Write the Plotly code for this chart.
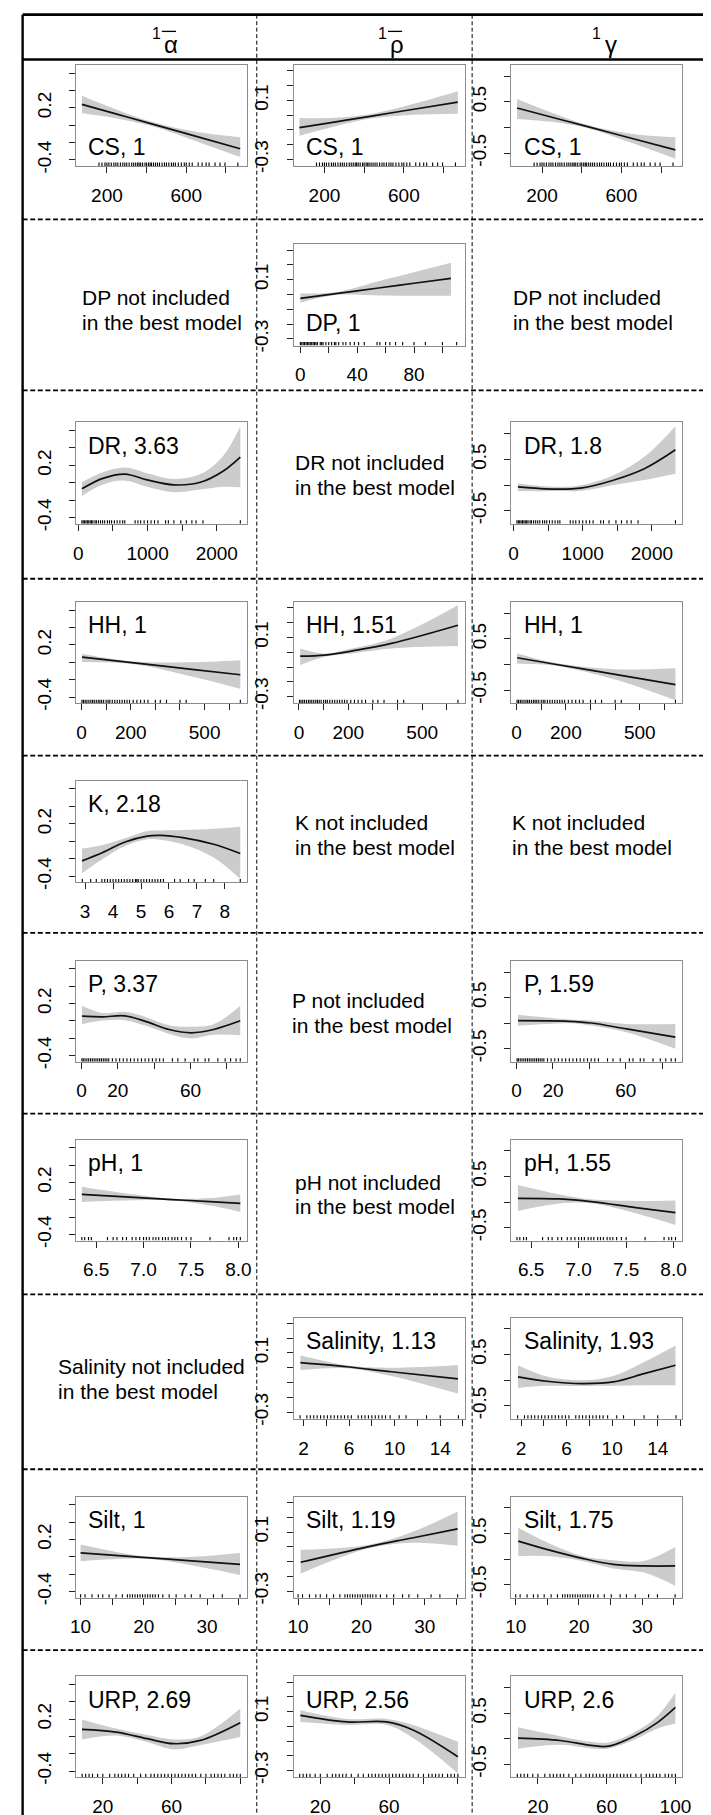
import plotly.graph_objects as go

W, H = 711, 1815
FONT = "Liberation Sans, Arial, Helvetica, sans-serif"

# ---------------- data: header ----------------
col_symbols = ["\u03b1", "\u03c1", "\u03b3"]
col_has_bar = [True, True, False]

# ---------------- data: y axes per column ----------------
ya_ticks = [-0.4, -0.2, 0.0, 0.2, 0.4, 0.6]
ya_text = ["-0.4", "", "", "0.2", "", ""]
ya_range = [-0.469, 0.692]
yr_ticks = [-0.3, -0.2, -0.1, 0.0, 0.1, 0.2, 0.3]
yr_text = ["-0.3", "", "", "", "0.1", "", ""]
yr_range = [-0.345, 0.34]
yg_ticks = [-0.5, 0.0, 0.5, 1.0]
yg_text = ["-0.5", "", "0.5", ""]
yg_range = [-0.752, 1.22]

# ---------------- data: x axes per variable ----------------
cs_range = [45, 906];    cs_ticks = [200, 400, 600, 800];  cs_text = ["200", "", "600", ""]
dp_range = [-4.7, 115.6]; dp_ticks = [0, 20, 40, 60, 80, 100]; dp_text = ["0", "", "40", "", "80", ""]
dr_range = [-32, 2436];  dr_ticks = [0, 500, 1000, 1500, 2000]; dr_text = ["0", "", "1000", "", "2000"]
hh_range = [-21.6, 672]; hh_ticks = [0, 100, 200, 300, 400, 500, 600]; hh_text = ["0", "", "200", "", "", "500", ""]
k_range = [2.68, 8.79];  k_ticks = [3, 4, 5, 6, 7, 8]; k_text = ["3", "4", "5", "6", "7", "8"]
p_range = [-2.9, 91];    p_ticks = [0, 20, 40, 60, 80]; p_text = ["0", "20", "", "60", ""]
ph_range = [6.29, 8.09]; ph_ticks = [6.5, 7.0, 7.5, 8.0]; ph_text = ["6.5", "7.0", "7.5", "8.0"]
sal_range = [1.14, 16.14]; sal_ticks = [2, 4, 6, 8, 10, 12, 14, 16]; sal_text = ["2", "", "6", "", "10", "", "14", ""]
silt_range = [9.3, 36.3]; silt_ticks = [10, 15, 20, 25, 30, 35]; silt_text = ["10", "", "20", "", "30", ""]
urp_range = [4.5, 103.9]; urp_ticks = [20, 40, 60, 80, 100]
urp_text = ["20", "", "60", "", ""]
urp_text_g = ["20", "", "60", "", "100"]

# ---------------- data: rugs ----------------
cs_rug = [160, 175, 190, 200, 210, 222, 235, 245, 255, 268, 280, 290, 300, 312, 325, 335, 345, 355,
          362, 370, 380, 392, 400, 410, 418, 425, 435, 445, 455, 465, 478, 490, 500, 512, 525, 535,
          545, 560, 575, 590, 600, 615, 630, 660, 680, 700, 715, 745, 770, 795, 860]
dp_rug = [0, 1, 2, 3, 4, 5, 6, 7, 8, 9, 10, 11, 12, 14, 15, 16, 18, 20, 22, 24, 25, 27, 30, 32,
          35, 38, 41, 45, 54, 56, 60, 63, 67, 72, 80, 88, 100, 110]
dr_rug = [50, 70, 90, 110, 130, 150, 170, 190, 210, 240, 260, 290, 320, 350, 380, 420, 450, 480,
          520, 560, 600, 640, 670, 820, 860, 900, 950, 1000, 1050, 1100, 1150, 1260, 1300, 1380,
          1480, 1560, 1640, 1700, 1800, 2340]
hh_rug = [2, 8, 15, 22, 30, 38, 45, 52, 60, 68, 75, 82, 90, 100, 108, 115, 125, 135, 145, 155,
          165, 175, 185, 195, 210, 225, 240, 255, 270, 300, 320, 345, 400, 425, 645]
k_rug = [2.9, 3.2, 3.4, 3.6, 3.7, 3.8, 3.9, 4.0, 4.1, 4.2, 4.3, 4.4, 4.5, 4.6, 4.7, 4.8, 4.85,
         4.9, 5.0, 5.1, 5.2, 5.3, 5.4, 5.5, 5.6, 5.7, 5.8, 6.2, 6.4, 6.7, 6.9, 7.3, 7.6, 8.55]
p_rug = [0.3, 1, 2, 3, 4, 5, 6, 7, 8, 9, 10, 11, 12, 13, 14, 15, 17, 19, 21, 23, 25, 27, 29, 31,
         33, 35, 37, 39, 41, 43, 45, 50, 53, 57, 62, 64, 68, 70, 75, 79, 82, 85, 87.3]
ph_rug = [6.35, 6.38, 6.42, 6.45, 6.62, 6.68, 6.72, 6.78, 6.82, 6.88, 6.92, 6.96, 7.0, 7.03,
          7.06, 7.1, 7.13, 7.16, 7.2, 7.23, 7.26, 7.3, 7.33, 7.36, 7.4, 7.45, 7.5, 7.7, 7.9, 7.95,
          7.98, 8.02]
sal_rug = [1.7, 2.3, 2.6, 2.9, 3.2, 3.5, 3.8, 4.1, 4.4, 4.7, 5.0, 5.3, 5.6, 5.9, 6.2, 6.8, 7.1,
           7.4, 7.7, 8.0, 8.3, 8.6, 8.9, 9.2, 9.6, 10.4, 11.0, 12.8, 14.0, 15.6]
silt_rug = [10.0, 10.7, 11.8, 12.8, 13.5, 14.5, 15.6, 16.6, 17.4, 17.8, 18.2, 18.6, 19.0, 19.4,
            19.8, 20.2, 20.6, 21.0, 21.4, 21.8, 22.3, 23.0, 24.0, 25.1, 26.5, 27.5, 28.9, 31.0,
            32.4, 35.2]
urp_rug = [8, 10, 12, 14, 17, 20, 24, 27, 29, 31, 33, 35, 38, 42, 45, 48, 50, 52, 54, 56, 58, 60,
           62, 64, 66, 68, 70, 72, 74, 77, 80, 83, 85, 87, 89, 91, 94, 96, 98, 100]

# ---------------- data: smooths (x, fit, lower, upper) ----------------
cs_a_x = [74, 250, 430, 650, 872]
cs_a_fit = [0.24, 0.128, 0.013, -0.128, -0.27]
cs_a_lo = [0.137, 0.078, -0.012, -0.183, -0.366]
cs_a_hi = [0.338, 0.178, 0.038, -0.075, -0.138]
cs_r_x = [74, 250, 430, 650, 872]
cs_r_fit = [-0.085, -0.047, -0.008, 0.040, 0.088]
cs_r_lo = [-0.14, -0.077, -0.023, 0.003, 0.01]
cs_r_hi = [-0.02, -0.017, 0.007, 0.077, 0.162]
cs_g_x = [74, 250, 430, 650, 872]
cs_g_fit = [0.382, 0.201, 0.017, -0.209, -0.437]
cs_g_lo = [0.168, 0.11, -0.016, -0.30, -0.61]
cs_g_hi = [0.558, 0.29, 0.05, -0.12, -0.19]

dp_r_x = [0, 25, 55, 80, 106]
dp_r_fit = [-0.026, 0.006, 0.044, 0.076, 0.109]
dp_r_lo = [-0.055, -0.004, -0.006, -0.008, -0.008]
dp_r_hi = [0.007, 0.016, 0.09, 0.15, 0.214]

dr_a_x = [51, 353, 674, 994, 1378, 1763, 2083, 2340]
dr_a_fit = [-0.069, 0.051, 0.1, 0.033, -0.024, 0.006, 0.13, 0.296]
dr_a_lo = [-0.152, -0.02, 0.025, -0.045, -0.107, -0.076, -0.045, -0.05]
dr_a_hi = [0.006, 0.12, 0.175, 0.11, 0.044, 0.1, 0.3, 0.645]
dr_g_x = [64, 610, 995, 1442, 1890, 2340]
dr_g_fit = [-0.034, -0.078, -0.054, 0.094, 0.318, 0.688]
dr_g_lo = [-0.117, -0.117, -0.11, 0.0, 0.1, 0.222]
dr_g_hi = [0.031, -0.034, 0.0, 0.19, 0.55, 1.147]

hh_a_x = [2, 214, 430, 645]
hh_a_fit = [0.061, -0.006, -0.074, -0.142]
hh_a_lo = [0.004, -0.022, -0.15, -0.303]
hh_a_hi = [0.1, 0.01, 0.0, 0.023]
hh_r_x = [5, 105, 213, 375, 645]
hh_r_fit = [-0.026, -0.019, 0.008, 0.06, 0.183]
hh_r_lo = [-0.086, -0.03, -0.008, 0.026, 0.042]
hh_r_hi = [0.026, -0.008, 0.025, 0.094, 0.318]
hh_g_x = [2, 150, 400, 645]
hh_g_fit = [0.134, 0.013, -0.19, -0.39]
hh_g_lo = [0.017, -0.015, -0.29, -0.695]
hh_g_hi = [0.223, 0.04, -0.09, -0.068]

k_a_x = [2.89, 3.63, 4.43, 5.22, 5.70, 6.49, 7.60, 8.55]
k_a_fit = [-0.223, -0.127, -0.007, 0.061, 0.069, 0.043, -0.033, -0.139]
k_a_lo = [-0.363, -0.2, -0.052, 0.024, 0.02, -0.033, -0.184, -0.431]
k_a_hi = [-0.082, -0.04, 0.035, 0.118, 0.125, 0.13, 0.145, 0.168]

p_a_x = [0.3, 11.6, 23.9, 36, 48.2, 60.4, 72.6, 87.3]
p_a_fit = [0.054, 0.047, 0.058, -0.011, -0.099, -0.137, -0.099, 0.001]
p_a_lo = [-0.038, 0.005, 0.008, -0.06, -0.15, -0.202, -0.16, -0.164]
p_a_hi = [0.173, 0.09, 0.104, 0.04, -0.05, -0.068, -0.04, 0.173]
p_g_x = [0.8, 28.8, 41, 60.5, 87.3]
p_g_fit = [0.049, 0.037, 0.004, -0.112, -0.274]
p_g_lo = [-0.049, 0.0, -0.045, -0.177, -0.5]
p_g_hi = [0.165, 0.07, 0.05, -0.016, -0.016]

ph_a_x = [6.35, 6.9, 7.3, 7.7, 8.02]
ph_a_fit = [0.062, 0.028, 0.003, -0.021, -0.041]
ph_a_lo = [-0.025, -0.005, -0.008, -0.065, -0.14]
ph_a_hi = [0.15, 0.06, 0.013, 0.02, 0.062]
ph_g_x = [6.36, 6.8, 7.13, 7.6, 8.02]
ph_g_fit = [0.074, 0.061, 0.01, -0.108, -0.206]
ph_g_lo = [-0.174, -0.03, -0.023, -0.219, -0.448]
ph_g_hi = [0.335, 0.15, 0.055, 0.022, 0.029]

sal_r_x = [1.73, 5.82, 9.71, 15.56]
sal_r_fit = [0.035, 0.007, -0.027, -0.075]
sal_r_lo = [-0.015, -0.003, -0.055, -0.175]
sal_r_hi = [0.085, 0.017, 0.0, 0.018]
sal_g_x = [1.73, 4.26, 7.38, 10.1, 12.8, 15.56]
sal_g_fit = [0.062, -0.022, -0.068, -0.035, 0.126, 0.289]
sal_g_lo = [-0.151, -0.11, -0.113, -0.11, -0.1, -0.1]
sal_g_hi = [0.289, 0.07, -0.002, 0.08, 0.353, 0.677]

silt_a_x = [10.0, 19.8, 27, 35.2]
silt_a_fit = [0.046, -0.005, -0.043, -0.086]
silt_a_lo = [-0.049, -0.02, -0.09, -0.209]
silt_a_hi = [0.142, 0.01, 0.0, 0.046]
silt_r_x = [10.4, 21, 28, 35.2]
silt_r_fit = [-0.105, 0.0, 0.06, 0.122]
silt_r_lo = [-0.182, -0.012, 0.028, 0.007]
silt_r_hi = [-0.02, 0.012, 0.1, 0.24]
silt_g_x = [10.4, 14.9, 20.5, 25.4, 30.3, 35.2]
silt_g_fit = [0.353, 0.192, 0.017, -0.1, -0.132, -0.132]
silt_g_lo = [0.062, 0.06, -0.035, -0.18, -0.262, -0.52]
silt_g_hi = [0.612, 0.33, 0.062, -0.02, -0.035, 0.237]

urp_a_x = [7.9, 27.8, 45.8, 61.3, 76.8, 100]
urp_a_fit = [0.081, 0.05, -0.026, -0.084, -0.046, 0.158]
urp_a_lo = [-0.034, 0.01, -0.065, -0.15, -0.1, -0.008]
urp_a_hi = [0.196, 0.09, 0.015, -0.034, 0.0, 0.32]
urp_r_x = [8.4, 35.5, 58.7, 74.2, 100]
urp_r_fit = [0.075, 0.03, 0.03, -0.026, -0.206]
urp_r_lo = [0.03, 0.01, 0.01, -0.08, -0.318]
urp_r_hi = [0.109, 0.05, 0.05, 0.008, -0.105]
urp_g_x = [8.4, 32.9, 51, 61.3, 76.8, 89.7, 100]
urp_g_fit = [0.01, -0.035, -0.132, -0.146, 0.062, 0.32, 0.612]
urp_g_lo = [-0.196, -0.12, -0.19, -0.19, -0.01, 0.198, 0.295]
urp_g_hi = [0.223, 0.05, -0.06, -0.074, 0.14, 0.45, 0.903]

# ---------------- layout geometry (pixels) ----------------
COL_BOX = [(63.5, 238.0), (285.7, 460.3), (508.0, 682.5)]
ROW_BOX = [(57.3, 158.7), (237.3, 339.0), (416.3, 518.0), (596.7, 698.3), (776.3, 878.3),
           (957.0, 1058.3), (1136.7, 1238.0), (1315.3, 1417.0), (1495.3, 1596.7), (1675.7, 1777.0)]
ROW_SEP = [212.3, 384.0, 573.3, 751.0, 929.0, 1110.5, 1292.0, 1467.7, 1649.3]
VSEP = [248.0, 468.0]
TOP, HEAD_BOTTOM, LEFT, RIGHT = 6.7, 51.7, 8.8, 709.5

YAX = [(ya_ticks, ya_text, ya_range), (yr_ticks, yr_text, yr_range), (yg_ticks, yg_text, yg_range)]

# row, col, label, label position, x-axis, rug, smooth
panels = [
    (0, 0, "CS, 1", "bottom", (cs_range, cs_ticks, cs_text), cs_rug, (cs_a_x, cs_a_fit, cs_a_lo, cs_a_hi)),
    (0, 1, "CS, 1", "bottom", (cs_range, cs_ticks, cs_text), cs_rug, (cs_r_x, cs_r_fit, cs_r_lo, cs_r_hi)),
    (0, 2, "CS, 1", "bottom", (cs_range, cs_ticks, cs_text), cs_rug, (cs_g_x, cs_g_fit, cs_g_lo, cs_g_hi)),
    (1, 1, "DP, 1", "bottom2", (dp_range, dp_ticks, dp_text), dp_rug, (dp_r_x, dp_r_fit, dp_r_lo, dp_r_hi)),
    (2, 0, "DR, 3.63", "top", (dr_range, dr_ticks, dr_text), dr_rug, (dr_a_x, dr_a_fit, dr_a_lo, dr_a_hi)),
    (2, 2, "DR, 1.8", "top", (dr_range, dr_ticks, dr_text), dr_rug, (dr_g_x, dr_g_fit, dr_g_lo, dr_g_hi)),
    (3, 0, "HH, 1", "top", (hh_range, hh_ticks, hh_text), hh_rug, (hh_a_x, hh_a_fit, hh_a_lo, hh_a_hi)),
    (3, 1, "HH, 1.51", "top", (hh_range, hh_ticks, hh_text), hh_rug, (hh_r_x, hh_r_fit, hh_r_lo, hh_r_hi)),
    (3, 2, "HH, 1", "top", (hh_range, hh_ticks, hh_text), hh_rug, (hh_g_x, hh_g_fit, hh_g_lo, hh_g_hi)),
    (4, 0, "K, 2.18", "top", (k_range, k_ticks, k_text), k_rug, (k_a_x, k_a_fit, k_a_lo, k_a_hi)),
    (5, 0, "P, 3.37", "top", (p_range, p_ticks, p_text), p_rug, (p_a_x, p_a_fit, p_a_lo, p_a_hi)),
    (5, 2, "P, 1.59", "top", (p_range, p_ticks, p_text), p_rug, (p_g_x, p_g_fit, p_g_lo, p_g_hi)),
    (6, 0, "pH, 1", "top", (ph_range, ph_ticks, ph_text), ph_rug, (ph_a_x, ph_a_fit, ph_a_lo, ph_a_hi)),
    (6, 2, "pH, 1.55", "top", (ph_range, ph_ticks, ph_text), ph_rug, (ph_g_x, ph_g_fit, ph_g_lo, ph_g_hi)),
    (7, 1, "Salinity, 1.13", "top", (sal_range, sal_ticks, sal_text), sal_rug, (sal_r_x, sal_r_fit, sal_r_lo, sal_r_hi)),
    (7, 2, "Salinity, 1.93", "top", (sal_range, sal_ticks, sal_text), sal_rug, (sal_g_x, sal_g_fit, sal_g_lo, sal_g_hi)),
    (8, 0, "Silt, 1", "top", (silt_range, silt_ticks, silt_text), silt_rug, (silt_a_x, silt_a_fit, silt_a_lo, silt_a_hi)),
    (8, 1, "Silt, 1.19", "top", (silt_range, silt_ticks, silt_text), silt_rug, (silt_r_x, silt_r_fit, silt_r_lo, silt_r_hi)),
    (8, 2, "Silt, 1.75", "top", (silt_range, silt_ticks, silt_text), silt_rug, (silt_g_x, silt_g_fit, silt_g_lo, silt_g_hi)),
    (9, 0, "URP, 2.69", "top", (urp_range, urp_ticks, urp_text), urp_rug, (urp_a_x, urp_a_fit, urp_a_lo, urp_a_hi)),
    (9, 1, "URP, 2.56", "top", (urp_range, urp_ticks, urp_text), urp_rug, (urp_r_x, urp_r_fit, urp_r_lo, urp_r_hi)),
    (9, 2, "URP, 2.6", "top", (urp_range, urp_ticks, urp_text_g), urp_rug, (urp_g_x, urp_g_fit, urp_g_lo, urp_g_hi)),
]

# "not included" cells: (text first line, x px, center y px)
missing = [
    ("DP not included", 67.0, 303.7), ("DP not included", 508.0, 303.7),
    ("DR not included", 284.8, 469.0),
    ("K not included", 284.8, 830.8), ("K not included", 507.0, 830.8),
    ("P not included", 282.0, 1009.5),
    ("pH not included", 284.8, 1191.7),
    ("Salinity not included", 43.0, 1376.7),
]


def fx(p):
    return p / W


def fy(p):
    return 1 - p / H


fig = go.Figure()
annotations = []
shapes = []
LABEL_Y = {"top": 0.77, "bottom": 0.19, "bottom2": 0.22}

for n, (row, col, label, lpos, xax, rug, smooth) in enumerate(panels, start=1):
    xa = "x" if n == 1 else f"x{n}"
    ya = "y" if n == 1 else f"y{n}"
    xr, xt, xtt = xax
    yt, ytt, yr = YAX[col]
    sx, sfit, slo, shi = smooth
    b_top, b_bot = ROW_BOX[row]
    b_l, b_r = COL_BOX[col]

    fig.add_trace(go.Scatter(x=sx, y=shi, mode="lines", line=dict(width=0, shape="spline"),
                             xaxis=xa, yaxis=ya, showlegend=False, hoverinfo="skip"))
    fig.add_trace(go.Scatter(x=sx, y=slo, mode="lines", line=dict(width=0, shape="spline"),
                             fill="tonexty", fillcolor="#cccccc",
                             xaxis=xa, yaxis=ya, showlegend=False, hoverinfo="skip"))
    fig.add_trace(go.Scatter(x=sx, y=sfit, mode="lines",
                             line=dict(width=1.7, color="#111111", shape="spline"),
                             xaxis=xa, yaxis=ya, showlegend=False, hoverinfo="skip"))
    rug_h = 3.5 / (b_bot - b_top) * (yr[1] - yr[0])
    rx, ry = [], []
    for v in rug:
        rx += [v, v, None]
        ry += [yr[0], yr[0] + rug_h, None]
    fig.add_trace(go.Scatter(x=rx, y=ry, mode="lines", line=dict(width=1.1, color="black"),
                             xaxis=xa, yaxis=ya, showlegend=False, hoverinfo="skip"))

    common = dict(showgrid=False, zeroline=False, showline=True, mirror=True,
                  linecolor="#8c8c8c", linewidth=1, ticks="outside", ticklen=6, tickwidth=1,
                  tickcolor="#222222", tickfont=dict(family=FONT, size=19, color="black"),
                  fixedrange=True)
    fig.update_layout(**{
        ("xaxis" if n == 1 else f"xaxis{n}"): dict(
            common, domain=[fx(b_l), fx(b_r)], range=xr, anchor=ya,
            tickmode="array", tickvals=xt, ticktext=xtt, ticklabelstandoff=6),
        ("yaxis" if n == 1 else f"yaxis{n}"): dict(
            common, domain=[fy(b_bot), fy(b_top)], range=yr, anchor=xa,
            tickmode="array", tickvals=yt, ticktext=ytt, tickangle=-90, ticklabelstandoff=11),
    })
    annotations.append(dict(text=label, xref=f"{xa} domain", yref=f"{ya} domain",
                            x=0.06, y=LABEL_Y[lpos], xanchor="left", yanchor="middle",
                            showarrow=False, font=dict(family=FONT, size=23, color="black")))

# not-included texts
for first, x_px, cy in missing:
    for txt, dy in ((first, -12.5), ("in the best model", 12.5)):
        annotations.append(dict(text=txt, xref="paper", yref="paper", x=fx(x_px), y=fy(cy + dy),
                                xanchor="left", yanchor="middle", showarrow=False,
                                font=dict(family=FONT, size=21, color="black")))

# header: superscript "1", greek letter, and overline bar for alpha / rho
HEAD_X = [151.5, 382.5, 601.5]
for xs, sym, bar in zip(HEAD_X, col_symbols, col_has_bar):
    annotations.append(dict(text="1", xref="paper", yref="paper", x=fx(xs + 0.5), y=fy(26.0),
                            xanchor="right", yanchor="middle", showarrow=False,
                            font=dict(family=FONT, size=16, color="black")))
    annotations.append(dict(text=sym, xref="paper", yref="paper", x=fx(xs), y=fy(37.0),
                            xanchor="left", yanchor="middle", showarrow=False,
                            font=dict(family=FONT, size=24, color="black")))
    if bar:
        shapes.append(dict(type="line", xref="paper", yref="paper",
                           x0=fx(xs - 0.5), x1=fx(xs + 14.0), y0=fy(23.5), y1=fy(23.5),
                           line=dict(color="black", width=1.3)))

# table lines
line_k = dict(xref="paper", yref="paper", type="line")
shapes.append(dict(line_k, x0=fx(LEFT), x1=fx(RIGHT), y0=fy(TOP), y1=fy(TOP),
                   line=dict(color="black", width=2.6)))
shapes.append(dict(line_k, x0=fx(LEFT), x1=fx(RIGHT), y0=fy(HEAD_BOTTOM), y1=fy(HEAD_BOTTOM),
                   line=dict(color="black", width=2.6)))
shapes.append(dict(line_k, x0=fx(LEFT), x1=fx(LEFT), y0=fy(TOP), y1=fy(H),
                   line=dict(color="black", width=2.4)))
shapes.append(dict(line_k, x0=fx(RIGHT), x1=fx(RIGHT), y0=fy(TOP), y1=fy(HEAD_BOTTOM),
                   line=dict(color="black", width=2.4)))
for yy in ROW_SEP:
    shapes.append(dict(line_k, x0=fx(LEFT), x1=fx(W), y0=fy(yy), y1=fy(yy),
                       line=dict(color="black", width=1.8, dash="5px,2.6px")))
for xx in VSEP:
    shapes.append(dict(line_k, x0=fx(xx), x1=fx(xx), y0=fy(TOP), y1=fy(H),
                       line=dict(color="black", width=1, dash="4px,2.5px")))

fig.update_layout(width=W, height=H, margin=dict(l=0, r=0, t=0, b=0),
                  paper_bgcolor="white", plot_bgcolor="white",
                  annotations=annotations, shapes=shapes, showlegend=False,
                  font=dict(family=FONT, color="black"))

fig.write_html("out.html")
